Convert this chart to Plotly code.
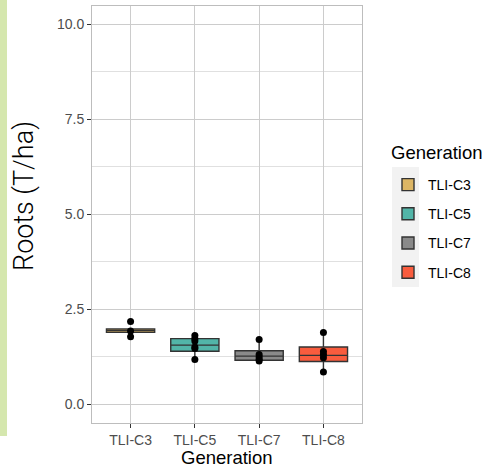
import plotly.graph_objects as go

categories = ["TLI-C3", "TLI-C5", "TLI-C7", "TLI-C8"]
colors = ["#DDB665", "#52B5A8", "#8A8A8A", "#F95C3E"]
q1 = [1.885, 1.39, 1.15, 1.12]
median = [1.93, 1.55, 1.26, 1.28]
q3 = [1.975, 1.72, 1.40, 1.50]
lowerfence = [1.885, 1.17, 1.13, 0.84]
upperfence = [1.975, 1.80, 1.70, 1.88]
points = {
    "TLI-C3": [2.17, 1.92, 1.77],
    "TLI-C5": [1.80, 1.72, 1.66, 1.50, 1.46, 1.17],
    "TLI-C7": [1.70, 1.30, 1.24, 1.18, 1.13],
    "TLI-C8": [1.88, 1.38, 1.30, 1.22, 0.84],
}
y_ticks = [0, 2.5, 5, 7.5, 10]
y_ticklabels = ["0.0", "2.5", "5.0", "7.5", "10.0"]
x_title = "Generation"
y_title = "Roots (T/ha)"
legend_title = "Generation"

W, H = 487, 468
L, R, T, B = 92, 125, 6, 45
pw, ph = W - L - R, H - T - B

def px_x(p):
    return (p - L) / pw

def px_y(p):
    return (H - B - p) / ph

fig = go.Figure()
for i, c in enumerate(categories):
    fig.add_trace(go.Box(
        x=[c], q1=[q1[i]], median=[median[i]], q3=[q3[i]],
        lowerfence=[lowerfence[i]], upperfence=[upperfence[i]],
        name=c, fillcolor=colors[i],
        line=dict(color="#333333", width=1.4),
        width=0.75, boxpoints=False, legendgroup=c,
        whiskerwidth=0,
    ))
for i, c in enumerate(categories):
    fig.add_trace(go.Scatter(
        x=[c] * len(points[c]), y=points[c], mode="markers",
        marker=dict(color="black", size=7), showlegend=False,
        hoverinfo="y",
    ))

fig.update_layout(
    width=W, height=H,
    margin=dict(l=L, r=R, t=T, b=B),
    paper_bgcolor="white", plot_bgcolor="white",
    boxmode="overlay",
    font=dict(family="Liberation Sans, Arial, sans-serif", color="#4D4D4D", size=14),
    legend=dict(
        x=px_x(388), y=px_y(169), xanchor="left", yanchor="top",
        bgcolor="rgba(0,0,0,0)", tracegroupgap=8,
        font=dict(size=14, color="black"),
    ),
    shapes=[
        dict(type="rect", xref="paper", yref="paper",
             x0=px_x(0), x1=px_x(7), y0=px_y(436), y1=px_y(0),
             fillcolor="#D5E7AE", line=dict(width=0), layer="below"),
        dict(type="rect", xref="paper", yref="paper",
             x0=px_x(392), x1=px_x(419), y0=px_y(287), y1=px_y(167),
             fillcolor="#F2F2F2", line=dict(width=0), layer="below"),
    ],
    annotations=[
        dict(text=y_title, xref="paper", yref="paper", x=px_x(24), y=px_y(196),
             xanchor="center", yanchor="middle", textangle=-90, showarrow=False,
             font=dict(size=27, color="black", family="Roboto", weight=300)),
        dict(text=x_title, xref="paper", yref="paper", x=px_x(227), y=px_y(458),
             xanchor="center", yanchor="middle", showarrow=False,
             font=dict(size=18.5, color="black")),
        dict(text=legend_title, xref="paper", yref="paper", x=px_x(389), y=px_y(152),
             xanchor="left", yanchor="middle", showarrow=False,
             font=dict(size=18.5, color="black")),
    ],
)
fig.update_xaxes(
    categoryorder="array", categoryarray=categories,
    range=[-0.6, 3.6],
    showgrid=True, gridcolor="#CCCCCC", gridwidth=1.4,
    showline=True, linecolor="#BDBDBD", linewidth=1, mirror=True,
    ticks="outside", ticklen=4, tickcolor="#333333",
    tickfont=dict(size=14, color="#4D4D4D"),
    zeroline=False,
)
fig.update_yaxes(
    range=[-0.5, 10.474],
    tickvals=y_ticks, ticktext=y_ticklabels,
    showgrid=True, gridcolor="#CCCCCC", gridwidth=1.4,
    minor=dict(dtick=1.25, tick0=0, showgrid=True, gridcolor="#E0E0E0", gridwidth=1, ticks=""),
    showline=True, linecolor="#BDBDBD", linewidth=1, mirror=True,
    ticks="outside", ticklen=4, tickcolor="#333333",
    tickfont=dict(size=14, color="#4D4D4D"),
    zeroline=False,
)

fig.write_html("out.html")
